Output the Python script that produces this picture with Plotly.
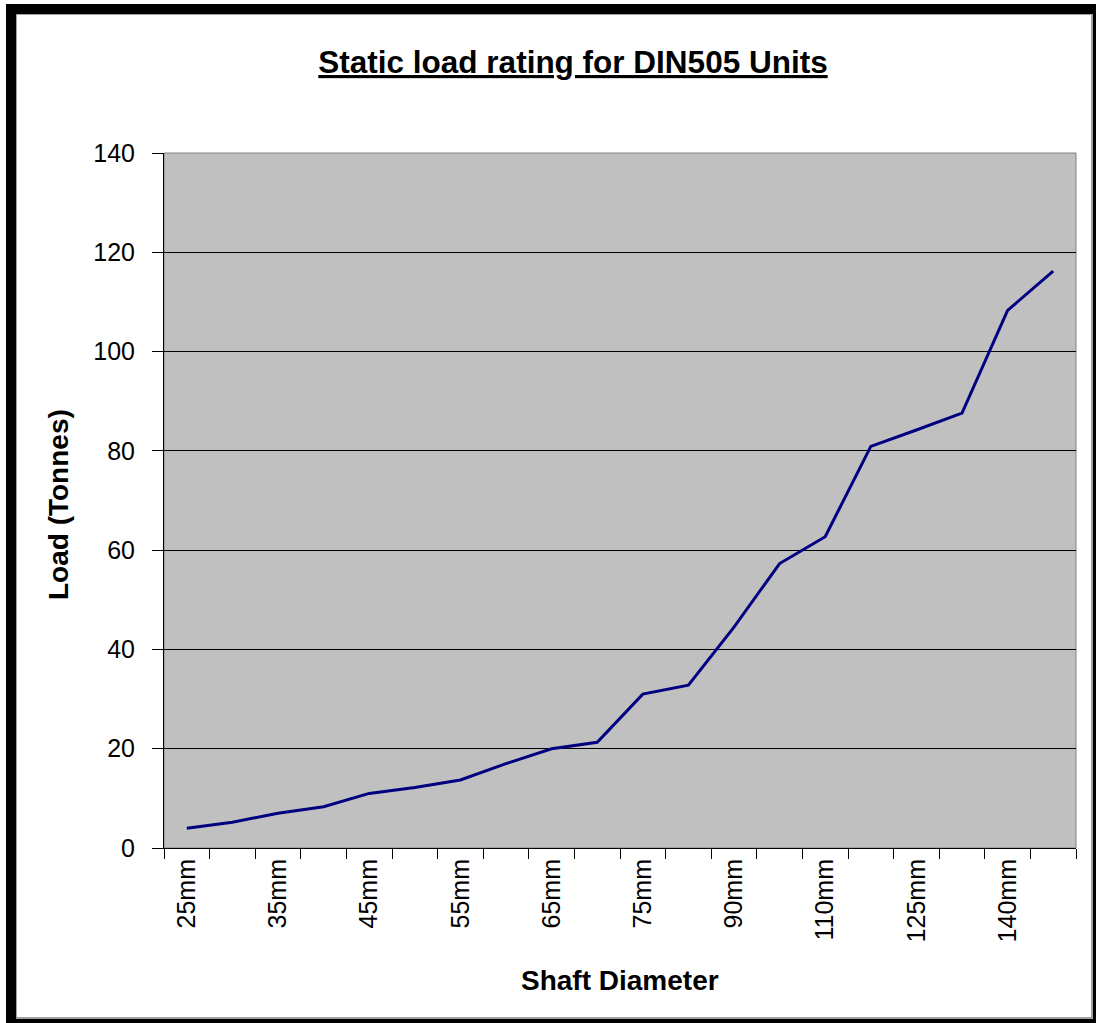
import plotly.graph_objects as go

categories = ["25mm", "30mm", "35mm", "40mm", "45mm", "50mm", "55mm", "60mm", "65mm", "70mm",
              "75mm", "80mm", "90mm", "100mm", "110mm", "115mm", "125mm", "135mm", "140mm", "150mm"]
load_tonnes = [4.0, 5.2, 7.0, 8.3, 11.0, 12.2, 13.7, 17.0, 20.0, 21.3,
               31.0, 32.8, 44.5, 57.3, 62.7, 80.9, 84.2, 87.6, 108.3, 116.2]
y_ticks = [0, 20, 40, 60, 80, 100, 120, 140]
x_ticktext = [c if i % 2 == 0 else "" for i, c in enumerate(categories)]

W, H = 1096, 1023
L, R, T, B = 164, 1076, 153, 848

fig = go.Figure()
fig.add_trace(go.Scatter(
    x=categories, y=load_tonnes, mode="lines",
    line=dict(color="#000080", width=3),
    hoverinfo="x+y", showlegend=False,
))

def px(x):
    return (x - L) / (R - L)

def py(y):
    return (B - y) / (B - T)

def band(x0, y0, x1, y1, color="black"):
    return dict(type="rect", xref="paper", yref="paper",
                x0=px(x0), x1=px(x1), y0=py(y1), y1=py(y0),
                fillcolor=color, line=dict(width=0))

shapes = [
    dict(type="rect", xref="paper", yref="paper", x0=0, x1=1, y0=0, y1=1,
         line=dict(color="#808080", width=1), layer="below"),
    band(6, 4, 16, H),
    band(6, 4, W, 14),
    band(16, 14, W, 15, "#A0A0A0"),
    band(16, 14, 17, 1018, "#A0A0A0"),
    band(1091, 14, 1093, 1018, "#A0A0A0"),
    band(16, 1017, 1093, 1019, "#A0A0A0"),
    band(1093, 4, W, H),
    band(6, 1019, W, H),
]

annotations = [
    dict(text="<b>Load (Tonnes)</b>", xref="paper", yref="paper",
         x=px(58), y=py(505), xanchor="center", yanchor="middle",
         textangle=-90, showarrow=False, font=dict(size=28, color="black")),
    dict(text="<b>Shaft Diameter</b>", xref="paper", yref="paper",
         x=px(620), y=py(981), xanchor="center", yanchor="middle",
         showarrow=False, font=dict(size=28, color="black")),
]

fig.update_layout(
    width=W, height=H,
    margin=dict(l=L, r=W - R, t=T, b=H - B, autoexpand=False),
    paper_bgcolor="white", plot_bgcolor="#C0C0C0",
    font=dict(family="Liberation Sans, Arial, sans-serif", color="black"),
    title=dict(text="<u><b>Static load rating for DIN505 Units</b></u>",
               x=573 / W, xanchor="center", y=1 - 62 / H, yanchor="middle",
               font=dict(size=31.5, color="black")),
    shapes=shapes,
    annotations=annotations,
    xaxis=dict(
        type="category", tickmode="array", tickvals=categories, ticktext=x_ticktext,
        tickson="boundaries", ticks="outside", ticklen=10, tickcolor="black", tickwidth=1,
        tickangle=-90, tickfont=dict(size=25),
        showline=True, linecolor="black", linewidth=1, showgrid=False, zeroline=False,
        range=[-0.5, len(categories) - 0.5],
    ),
    yaxis=dict(
        range=[0, 140], tickmode="array", tickvals=y_ticks,
        ticks="outside", ticklen=11, tickcolor="black", tickwidth=1,
        tickfont=dict(size=25), ticklabelstandoff=12,
        showline=True, linecolor="black", linewidth=1,
        showgrid=True, gridcolor="black", gridwidth=1, zeroline=False,
    ),
)

fig.write_html("out.html", config={"displayModeBar": False},
               post_script="document.body.style.margin='0';")
